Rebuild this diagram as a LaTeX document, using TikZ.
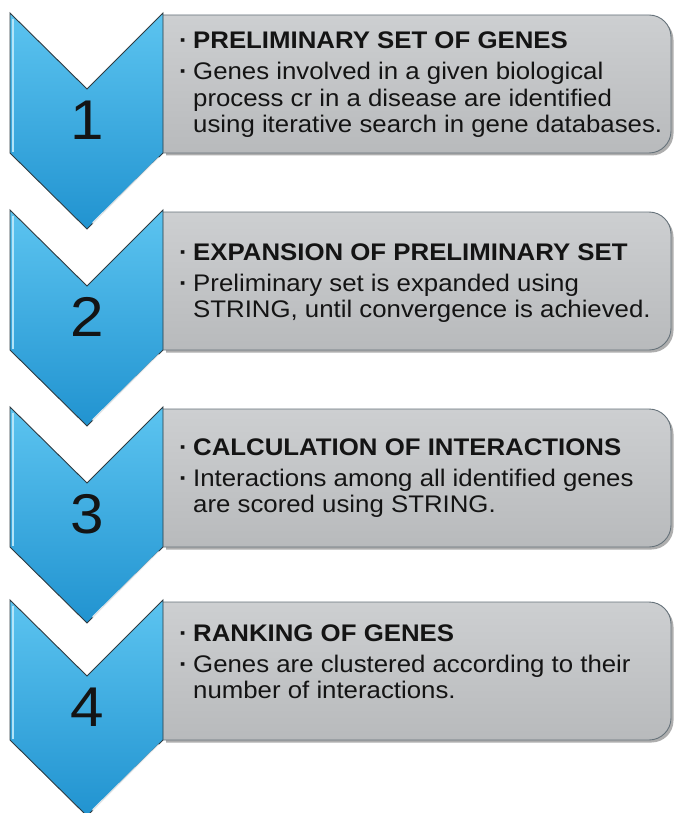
\documentclass[tikz,border=0pt]{standalone}
\usepackage{fontspec}
\setmainfont{Liberation Sans}[FakeStretch=1.075]
\begin{document}
\begin{tikzpicture}[x=1pt,y=-1pt]
\definecolor{chevtop}{HTML}{5CC4F0}
\definecolor{chevmid}{HTML}{45B4E5}
\definecolor{chevbot}{HTML}{2193D0}
\definecolor{chevline}{HTML}{2E3A40}
\definecolor{boxtop}{HTML}{CDCFD1}
\definecolor{boxbot}{HTML}{B8BABC}
\definecolor{boxline}{HTML}{66727A}
\definecolor{ink}{HTML}{141414}
\tikzset{
  chevron/.style={draw=chevline, line width=0.9pt, line join=miter,
    top color=chevtop, middle color=chevmid, bottom color=chevbot},
  panel/.style={draw=boxline, line width=0.9pt, rounded corners=22pt,
    top color=boxtop, bottom color=boxbot},
  panelshadow/.style={fill=black!70, opacity=0.45, rounded corners=22pt},
  gloss/.style={white, line width=2pt, opacity=0.85, line cap=round},
  sheen/.style={cyan!25!white, line width=1.6pt, opacity=0.9},
  numeral/.style={font=\fontsize{56}{56}\selectfont, text=ink, inner sep=0pt, anchor=center},
  txt/.style={font=\fontsize{24}{27}\selectfont, text=ink, inner sep=0pt, anchor=base west},
}
\newcommand{\bul}{\makebox[14pt][l]{\textbf{·}}}
\newcommand{\ind}{\hspace*{14pt}}
\useasboundingbox (0,0) rectangle (674,813);
\fill[white] (0,0) rectangle (674,813);

% four stages: grey panel with a blue chevron in front of it
\foreach \y/\n in {13/1,210/2,407/3,600/4}{
  \fill[panelshadow] (166,\y+5) -- (673.5,\y+5) -- (673.5,\y+142.5) -- (166,\y+142.5);
  \path[panel] (163,\y+2) -- (671,\y+2) -- (671,\y+140) -- (163,\y+140);
  \path[chevron] (10,\y) -- (87,\y+76) -- (163,\y) -- (163,\y+140)
    -- (87,\y+216) -- (10,\y+140) -- cycle;
  \draw[gloss] (159,\y+145) -- (93,\y+210);
  \draw[sheen] (13,\y+6) -- (13,\y+139);
  \node[numeral] (num\n) at (87,\y+107) {\n};
}

% stage texts
\node[txt] (h1) at (179,49) {\bul\textbf{PRELIMINARY SET OF GENES}};
\node[txt] (b1a) at (179,80) {\bul Genes involved in a given biological};
\node[txt] (b1b) at (179,106.5) {\ind process cr in a disease are identified};
\node[txt] (b1c) at (179,133) {\ind using iterative search in gene databases.};

\node[txt] (h2) at (179,260) {\bul\textbf{EXPANSION OF PRELIMINARY SET}};
\node[txt] (b2a) at (179,291) {\bul Preliminary set is expanded using};
\node[txt] (b2b) at (179,317.5) {\ind STRING, until convergence is achieved.};

\node[txt] (h3) at (179,455) {\bul\textbf{CALCULATION OF INTERACTIONS}};
\node[txt] (b3a) at (179,486) {\bul Interactions among all identified genes};
\node[txt] (b3b) at (179,512.5) {\ind are scored using STRING.};

\node[txt] (h4) at (179,641) {\bul\textbf{RANKING OF GENES}};
\node[txt] (b4a) at (179,672) {\bul Genes are clustered according to their};
\node[txt] (b4b) at (179,698.5) {\ind number of interactions.};
\end{tikzpicture}
\end{document}
